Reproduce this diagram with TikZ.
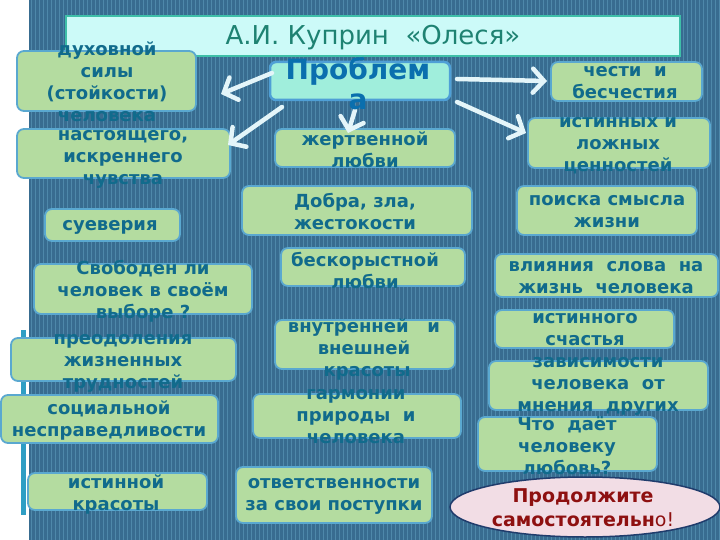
\documentclass[tikz,border=0pt]{standalone}
\usepackage{fontspec}
\setmainfont{DejaVu Sans}
\usetikzlibrary{arrows.meta,shapes.geometric}
\definecolor{bgc}{HTML}{386C90}
\definecolor{stripec}{HTML}{4E88AA}
\definecolor{barc}{HTML}{2E9EC4}
\definecolor{boxc}{HTML}{B4DCA0}
\definecolor{bordc}{HTML}{5AA8D0}
\definecolor{txtc}{HTML}{116B8C}
\definecolor{titlefill}{HTML}{CCFAF8}
\definecolor{titlebord}{HTML}{3EBFA8}
\definecolor{titletxt}{HTML}{1E8272}
\definecolor{probfill}{HTML}{A0EEDC}
\definecolor{probbord}{HTML}{4F9FD6}
\definecolor{probtxt}{HTML}{0A6FAE}
\definecolor{arrc}{HTML}{E4F5F9}
\definecolor{ellfill}{HTML}{F2DDE5}
\definecolor{ellbord}{HTML}{203C6C}
\definecolor{redtxt}{HTML}{8E1010}
\tikzset{
  gbox/.style={draw=bordc, fill=boxc, rounded corners=7pt, line width=1.8pt, inner sep=0pt},
  txt/.style={text=txtc, font=\fontsize{18}{22}\selectfont\bfseries, align=center, inner sep=0pt},
  arr/.style={draw=arrc, line width=4.5pt, line cap=round, -{Straight Barb[length=11pt,width=24pt,line cap=round]}},
}
\begin{document}
\begin{tikzpicture}[x=1pt,y=-1pt]
\useasboundingbox (0,0) rectangle (720,540);
\fill[white] (0,0) rectangle (720,540);
\fill[bgc] (29,0) rectangle (720,540);
\foreach \x in {31,35,...,719} \draw[stripec, line width=1pt] (\x,0) -- (\x,540);
\fill[barc] (21,330) rectangle (26,515);
% title
\node[draw=titlebord, fill=titlefill, line width=2.5pt, minimum width=614pt, minimum height=40pt, inner sep=0pt] (title) at (373,36) {};
\node[text=titletxt, font=\fontsize{26}{30}\selectfont, inner sep=0pt] (titletext) at (373,38) {А.И. Куприн ~«Олеся»};
% center box
\node[draw=probbord, fill=probfill, line width=2.5pt, rounded corners=6pt, minimum width=180pt, minimum height=38pt, inner sep=0pt] (P) at (360,81) {};
% green boxes
\node[gbox, minimum width=179pt, minimum height=60pt] (b1) at (106.5,81) {};
\node[gbox, minimum width=213pt, minimum height=49pt] (b2) at (123.5,153.5) {};
\node[gbox, minimum width=135pt, minimum height=32pt] (b3) at (112.5,225) {};
\node[gbox, minimum width=218pt, minimum height=50pt] (b4) at (143,289) {};
\node[gbox, minimum width=225pt, minimum height=43pt] (b5) at (123.5,359.5) {};
\node[gbox, minimum width=217pt, minimum height=48pt] (b6) at (109.5,419) {};
\node[gbox, minimum width=179pt, minimum height=37pt] (b7) at (117.5,491.5) {};
\node[gbox, minimum width=180pt, minimum height=38pt] (b8) at (365,148) {};
\node[gbox, minimum width=230pt, minimum height=49pt] (b9) at (357,210.5) {};
\node[gbox, minimum width=184pt, minimum height=38pt] (b10) at (373,267) {};
\node[gbox, minimum width=180pt, minimum height=49pt] (b11) at (365,344.5) {};
\node[gbox, minimum width=208pt, minimum height=44pt] (b12) at (357,416) {};
\node[gbox, minimum width=196pt, minimum height=56pt] (b13) at (334,495) {};
\node[gbox, minimum width=151pt, minimum height=39pt] (b14) at (626.5,81.5) {};
\node[gbox, minimum width=182pt, minimum height=50pt] (b15) at (619,143) {};
\node[gbox, minimum width=180pt, minimum height=49pt] (b16) at (607,210.5) {};
\node[gbox, minimum width=223pt, minimum height=43pt] (b17) at (606.5,275.5) {};
\node[gbox, minimum width=179pt, minimum height=38pt] (b18) at (584.5,329) {};
\node[gbox, minimum width=219pt, minimum height=49pt] (b19) at (598.5,385.5) {};
\node[gbox, minimum width=179pt, minimum height=54pt] (b20) at (567.5,444) {};
% ellipse
\node[ellipse, draw=ellbord, fill=ellfill, line width=1.5pt, minimum width=270pt, minimum height=60pt, inner sep=0pt] (E) at (585,507) {};
% arrows
\coordinate (s1) at (272,73); \coordinate (e1) at (221,94);
\coordinate (s2) at (282,107); \coordinate (e2) at (228,145);
\coordinate (s3) at (355,110); \coordinate (e3) at (348,133);
\coordinate (s4) at (457,79); \coordinate (e4) at (547,81);
\coordinate (s5) at (457,102); \coordinate (e5) at (526,133);
\draw[arr] (s1) -- (e1);
\draw[arr] (s2) -- (e2);
\draw[arr] (s3) -- (e3);
\draw[arr] (s4) -- (e4);
\draw[arr] (s5) -- (e5);
% texts
\node[text=probtxt, font=\fontsize{28}{30}\selectfont\bfseries, align=center, inner sep=0pt] (Pt) at (358,84) {Проблем\\а};
\node[txt] (t1) at (107,82) {духовной\\силы\\(стойкости)\\человека};
\node[txt] (t2) at (123,159) {настоящего,\\искреннего\\чувства};
\node[txt] (t3) at (110,227) {суеверия};
\node[txt] (t4) at (143,291) {Свободен ли\\человек в своём\\выборе ?};
\node[txt] (t5) at (123,363) {преодоления\\жизненных\\трудностей};
\node[txt] (t6) at (109,420) {социальной\\несправедливости};
\node[txt] (t7) at (116,494) {истинной\\красоты};
\node[txt] (t8) at (365,150) {жертвенной\\любви};
\node[txt] (t9) at (355,211) {Добра, зла,\\жестокости};
\node[txt] (t10) at (365,270) {бескорыстной\\любви};
\node[txt] (t11) at (364,349) {внутренней ~ и\\внешней\\~красоты};
\node[txt] (t12) at (356,417) {гармонии\\природы ~и\\человека};
\node[txt] (t13) at (334,496) {ответственности\\за свои поступки};
\node[txt] (t14) at (625,83) {чести ~и\\бесчестия};
\node[txt] (t15) at (618,146) {истинных и\\ложных\\ценностей};
\node[txt] (t16) at (607,212) {поиска смысла\\жизни};
\node[txt] (t17) at (606,278) {влияния ~слова ~на\\жизнь ~человека};
\node[txt] (t18) at (585,330) {истинного\\счастья};
\node[txt] (t19) at (598,386) {зависимости\\человека ~от\\мнения ~других};
\node[txt] (t20) at (567,446) {Что ~даёт\\человеку\\любовь?};
\node[text=redtxt, font=\fontsize{19}{24}\selectfont, align=center, inner sep=0pt] (Et) at (583,508) {\bfseries Продолжите\\{\bfseries самостоятельн}о!};
\end{tikzpicture}
\end{document}
